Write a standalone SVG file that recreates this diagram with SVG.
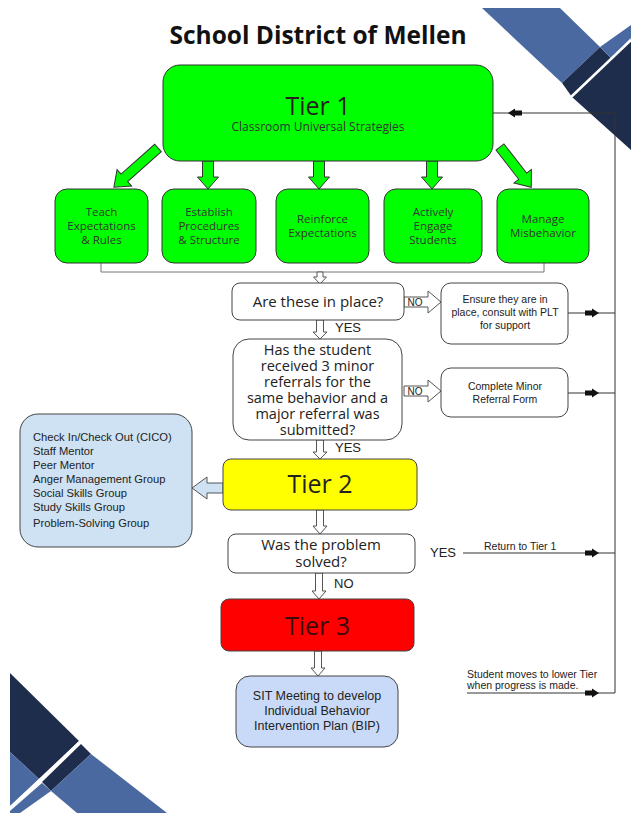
<svg xmlns="http://www.w3.org/2000/svg" width="631" height="823" viewBox="0 0 631 823">
<style>
.bg{fill:#ffffff}
.lt{fill:#4a69a0}
.dk{fill:#1f2d4d}
.wl{stroke:#ffffff;stroke-width:2.5;fill:none}
.green{fill:#00ff00;stroke:#333;stroke-width:1}
.white{fill:#ffffff;stroke:#444;stroke-width:1}
.ha{fill:#ffffff;stroke:#555;stroke-width:1}
.conn{stroke:#333;stroke-width:1;fill:none}
.brk{stroke:#777;stroke-width:1;fill:none}
.os{font-family:"Open Sans","DejaVu Sans",sans-serif;fill:#333}
.ar{font-family:"Liberation Sans",Arial,sans-serif;fill:#222}
.gt{font-size:11.5px;text-anchor:middle}
.tier{font-size:25px;text-anchor:middle;fill:#222}
.q{font-size:15px;text-anchor:middle;fill:#222}
.q2{font-size:14.5px;text-anchor:middle;fill:#222}
.sm{font-size:10.5px;text-anchor:middle}
.lbl{font-size:13px}
.no{font-size:10px;text-anchor:middle}
</style>
<defs>
<path id="hR" d="M-7,-2.5 H0 V-4.5 L7,0 L0,4.5 V2.5 H-7 Z" fill="#111"/>
<path id="hL" d="M7,-2.5 H0 V-4.5 L-7,0 L0,4.5 V2.5 H7 Z" fill="#111"/>
</defs>
<rect class="bg" x="0" y="0" width="631" height="823"/>

<g id="decor-top-right">
<polygon class="lt" points="482,8 560,8 600,47 562,83"/>
<polygon class="dk" points="562,83 600,47 611,58 631,39 631,150 572,97"/>
<polygon class="lt" points="600,47 631,25 631,38 611,58"/>
<line class="wl" x1="570" y1="98" x2="631" y2="40"/>
</g>
<g id="decor-bottom-left">
<polygon class="dk" points="10,673 79,741 39,779 10,752"/>
<polygon class="lt" points="10,752 39,779 10,806"/>
<polygon class="dk" points="81,744 91,754 51,791 42,782"/>
<polygon class="lt" points="10,811 42,783 51,791 20,813 10,813"/>
<polygon class="lt" points="51,791 91,754 167,813 77,813"/>
<line class="wl" x1="10" y1="808" x2="80" y2="742"/>
</g>

<text x="318" y="44" style="font-family:'Open Sans','DejaVu Sans',sans-serif;font-weight:700;font-size:24.5px;fill:#111" text-anchor="middle">School District of Mellen</text>

<g id="connectors">
<path class="green" transform="translate(158,148) rotate(138.4)" d="M0,-5 H45 V-11 L59,0 L45,11 V5 H0 Z"/>
<path class="green" d="M202.5,161 H213.5 V177 H218.5 L208,189 L197.5,177 H202.5 Z"/>
<path class="green" d="M313.5,161 H324.5 V177 H329.5 L319,189 L308.5,177 H313.5 Z"/>
<path class="green" d="M426.5,161 H437.5 V177 H442.5 L432,189 L421.5,177 H426.5 Z"/>
<path class="green" transform="translate(500,147) rotate(52.2)" d="M0,-5 H37 V-11 L51,0 L37,11 V5 H0 Z"/>
<polyline class="brk" points="101,263 101,272 544,272 544,263"/>
<path class="ha" d="M317,272 H323 V277 H326.5 L320,284 L313.5,277 H317 Z"/>
<path class="ha" d="M316.5,320 H323.5 V332 H327 L320,339 L313,332 H316.5 Z"/>
<path class="ha" d="M316.5,440 H323.5 V452 H327 L320,459 L313,452 H316.5 Z"/>
<path class="ha" d="M316.5,510 H323.5 V526 H327 L320,534 L313,526 H316.5 Z"/>
<path class="ha" d="M315.5,573 H322.5 V591 H326 L319,599 L312,591 H315.5 Z"/>
<path class="ha" d="M314.5,651 H321.5 V668 H325 L318,676 L311,668 H314.5 Z"/>
<path class="ha" d="M404,297 H428 V291 L441,302 L428,313 V307 H404 Z"/>
<path class="ha" d="M404,386 H428 V380 L441,391 L428,402 V396 H404 Z"/>
<path d="M223,483 H207 V477 L192,488 L207,499 V493 H223 Z" fill="#cfe2f3" stroke="#555" stroke-width="1"/>
<polyline class="conn" points="493,113 615,113 615,693"/>
<line class="conn" x1="568" y1="313" x2="615" y2="313"/>
<line class="conn" x1="568" y1="393" x2="615" y2="393"/>
<line class="conn" x1="463" y1="553" x2="615" y2="553"/>
<line class="conn" x1="467" y1="693" x2="615" y2="693"/>
<use href="#hL" x="515" y="113"/>
<use href="#hR" x="592" y="313"/>
<use href="#hR" x="592" y="393"/>
<use href="#hR" x="592" y="553"/>
<use href="#hR" x="592" y="693"/>
<text class="ar no" x="415" y="306">NO</text>
<text class="ar no" x="415" y="395">NO</text>
<text class="ar lbl" x="335" y="332">YES</text>
<text class="ar lbl" x="335" y="452">YES</text>
<text class="ar lbl" x="334" y="588">NO</text>
<text class="ar lbl" x="430" y="557">YES</text>
<text class="ar" x="484" y="550" style="font-size:10.5px">Return to Tier 1</text>
<text class="ar" style="font-size:10.5px"><tspan x="467" y="678">Student moves to lower Tier</tspan><tspan x="467" y="689">when progress is made.</tspan></text>
</g>

<g id="tier1">
<rect class="green" x="163" y="65" width="330" height="96" rx="17"/>
<text class="os tier" x="318" y="115">Tier 1</text>
<text class="os" x="318" y="131" style="font-size:12px" text-anchor="middle">Classroom Universal Strategies</text>
</g>
<g id="teach">
<rect class="green" x="55" y="189" width="93" height="74" rx="12"/>
<text class="os gt"><tspan x="101.5" y="216">Teach</tspan><tspan x="101.5" y="230">Expectations</tspan><tspan x="101.5" y="244">&amp; Rules</tspan></text>
</g>
<g id="establish">
<rect class="green" x="162" y="189" width="94" height="74" rx="12"/>
<text class="os gt"><tspan x="209" y="216">Establish</tspan><tspan x="209" y="230">Procedures</tspan><tspan x="209" y="244">&amp; Structure</tspan></text>
</g>
<g id="reinforce">
<rect class="green" x="276" y="189" width="93" height="74" rx="12"/>
<text class="os gt"><tspan x="322.5" y="223">Reinforce</tspan><tspan x="322.5" y="237">Expectations</tspan></text>
</g>
<g id="engage">
<rect class="green" x="384" y="189" width="98" height="74" rx="12"/>
<text class="os gt"><tspan x="433" y="216">Actively</tspan><tspan x="433" y="230">Engage</tspan><tspan x="433" y="244">Students</tspan></text>
</g>
<g id="manage">
<rect class="green" x="497" y="189" width="92" height="74" rx="12"/>
<text class="os gt"><tspan x="543" y="223">Manage</tspan><tspan x="543" y="237">Misbehavior</tspan></text>
</g>

<g id="in-place">
<rect class="white" x="232" y="283" width="172" height="37" rx="8"/>
<text class="os q" x="318" y="307">Are these in place?</text>
</g>
<g id="ensure">
<rect class="white" x="441" y="283" width="127" height="61" rx="10"/>
<text class="ar sm"><tspan x="505" y="303">Ensure they are in</tspan><tspan x="505" y="316">place, consult with PLT</tspan><tspan x="505" y="329">for support</tspan></text>
</g>
<g id="referrals">
<rect class="white" x="233" y="339" width="169" height="101" rx="16"/>
<text class="os q2"><tspan x="317.5" y="355">Has the student</tspan><tspan x="317.5" y="371">received 3 minor</tspan><tspan x="317.5" y="387">referrals for the</tspan><tspan x="317.5" y="403">same behavior and a</tspan><tspan x="317.5" y="419">major referral was</tspan><tspan x="317.5" y="435">submitted?</tspan></text>
</g>
<g id="minor-form">
<rect class="white" x="441" y="368" width="127" height="49" rx="10"/>
<text class="ar sm"><tspan x="505" y="390">Complete Minor</tspan><tspan x="505" y="403">Referral Form</tspan></text>
</g>
<g id="tier2-supports">
<rect x="20" y="414" width="172" height="133" rx="18" fill="#cfe2f3" stroke="#444" stroke-width="1"/>
<text class="ar" style="font-size:11.2px"><tspan x="33" y="441">Check In/Check Out (CICO)</tspan><tspan x="33" y="455">Staff Mentor</tspan><tspan x="33" y="469">Peer Mentor</tspan><tspan x="33" y="483">Anger Management Group</tspan><tspan x="33" y="497">Social Skills Group</tspan><tspan x="33" y="511">Study Skills Group</tspan><tspan x="33" y="527">Problem-Solving Group</tspan></text>
</g>
<g id="tier2">
<rect x="223" y="459" width="194" height="51" rx="8" fill="#ffff00" stroke="#444" stroke-width="1"/>
<text class="os tier" x="320" y="493">Tier 2</text>
</g>
<g id="solved">
<rect class="white" x="228" y="534" width="187" height="39" rx="8"/>
<text class="os q"><tspan x="321" y="550">Was the problem</tspan><tspan x="321" y="567">solved?</tspan></text>
</g>
<g id="tier3">
<rect x="221" y="599" width="193" height="52" rx="8" fill="#ff0000" stroke="#444" stroke-width="1"/>
<text class="os tier" x="317.5" y="635" style="fill:#3a0a0a">Tier 3</text>
</g>
<g id="sit">
<rect x="236" y="676" width="162" height="71" rx="14" fill="#c9daf8" stroke="#444" stroke-width="1"/>
<text class="ar" text-anchor="middle" style="font-size:12.5px"><tspan x="317" y="700">SIT Meeting to develop</tspan><tspan x="317" y="715">Individual Behavior</tspan><tspan x="317" y="730">Intervention Plan (BIP)</tspan></text>
</g>
</svg>
